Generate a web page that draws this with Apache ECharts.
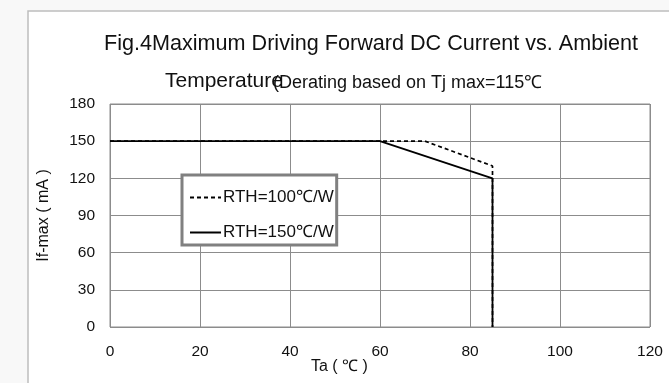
<!DOCTYPE html>
<html>
<head>
<meta charset="utf-8">
<script src="https://cdn.jsdelivr.net/npm/echarts@6/dist/echarts.min.js"></script>
<style>
  html, body { margin: 0; padding: 0; background: #f8f8f8; }
  #chart { width: 669px; height: 383px; }
</style>
</head>
<body>
<div id="chart"></div>
<script>
// 数据: Ta (℃) 与 If-max (mA)
var xTicks = [0, 20, 40, 60, 80, 100, 120];
var yTicks = [0, 30, 60, 90, 120, 150, 180];
var ta100 = [0, 70, 85, 85];     // RTH=100℃/W
var if100 = [150, 150, 130, 0];
var ta150 = [0, 60, 85, 85];     // RTH=150℃/W
var if150 = [150, 150, 120, 0];

var FONT = '"Liberation Sans", Arial, sans-serif';

function pairs(xs, ys) {
  var out = [];
  for (var i = 0; i < xs.length; i++) {
    out.push([xs[i], ys[i]]);
  }
  return out;
}

var chart = echarts.init(document.getElementById('chart'), null, { renderer: 'canvas' });

var option = {
  backgroundColor: '#f8f8f8',
  animation: false,
  title: [{
    text: 'Fig.4Maximum Driving Forward DC Current vs. Ambient',
    left: 99, top: 28,
    textStyle: { fontFamily: FONT, fontSize: 21.6, fontWeight: 'normal', color: '#111' }
  }, {
    text: 'Temperature',
    left: 160, top: 66,
    textStyle: { fontFamily: FONT, fontSize: 21, fontWeight: 'normal', color: '#111' }
  }, {
    text: '(Derating based on Tj max=115℃',
    left: 268, top: 69,
    textStyle: { fontFamily: FONT, fontSize: 18, fontWeight: 'normal', color: '#111' }
  }],
  graphic: [{
    type: 'rect', z: -10,
    shape: { x: 28, y: 11, width: 660, height: 400 },
    style: { fill: '#fff', stroke: '#bdbdbd', lineWidth: 1.5 }
  }, {
    type: 'text', left: 311, top: 359,
    style: { text: 'Ta ( ℃ )', font: '16px ' + FONT, fill: '#111' }
  }],
  grid: { left: 110, top: 104, right: 19, bottom: 56, show: true, borderColor: '#8c8c8c', borderWidth: 1 },
  legend: {
    orient: 'vertical',
    left: 182, top: 175,
    itemWidth: 31, itemHeight: 14, itemGap: 18,
    padding: [14, 3, 4, 7],
    borderColor: '#808080', borderWidth: 3,
    backgroundColor: '#fff',
    itemStyle: { opacity: 0 },
    textStyle: { fontFamily: FONT, fontSize: 17, color: '#111', padding: [0, 0, 0, -3] },
    data: ['RTH=100℃/W', 'RTH=150℃/W']
  },
  xAxis: {
    type: 'value', min: xTicks[0], max: xTicks[xTicks.length - 1], interval: 20,
    axisLine: { show: false }, axisTick: { show: false },
    axisLabel: { margin: 17, fontFamily: FONT, fontSize: 15.5, color: '#111' },
    splitLine: { lineStyle: { color: '#8c8c8c', width: 1 } }
  },
  yAxis: {
    type: 'value', min: yTicks[0], max: yTicks[yTicks.length - 1], interval: 30,
    name: 'If-max ( mA )', nameLocation: 'middle', nameGap: 58, nameRotate: 90,
    nameTextStyle: { fontFamily: FONT, fontSize: 16, color: '#111' },
    axisLine: { show: false }, axisTick: { show: false },
    axisLabel: { margin: 15, fontFamily: FONT, fontSize: 15.5, color: '#111' },
    splitLine: { lineStyle: { color: '#8c8c8c', width: 1 } }
  },
  series: [{
    name: 'RTH=100℃/W', type: 'line', symbol: 'none',
    data: pairs(ta100, if100),
    lineStyle: { color: '#000', width: 1.7, type: [4, 3] },
    itemStyle: { color: '#000' }
  }, {
    name: 'RTH=150℃/W', type: 'line', symbol: 'none',
    data: pairs(ta150, if150),
    lineStyle: { color: '#000', width: 1.8, type: 'solid' },
    itemStyle: { color: '#000' }
  }]
};

chart.setOption(option);
</script>
</body>
</html>
